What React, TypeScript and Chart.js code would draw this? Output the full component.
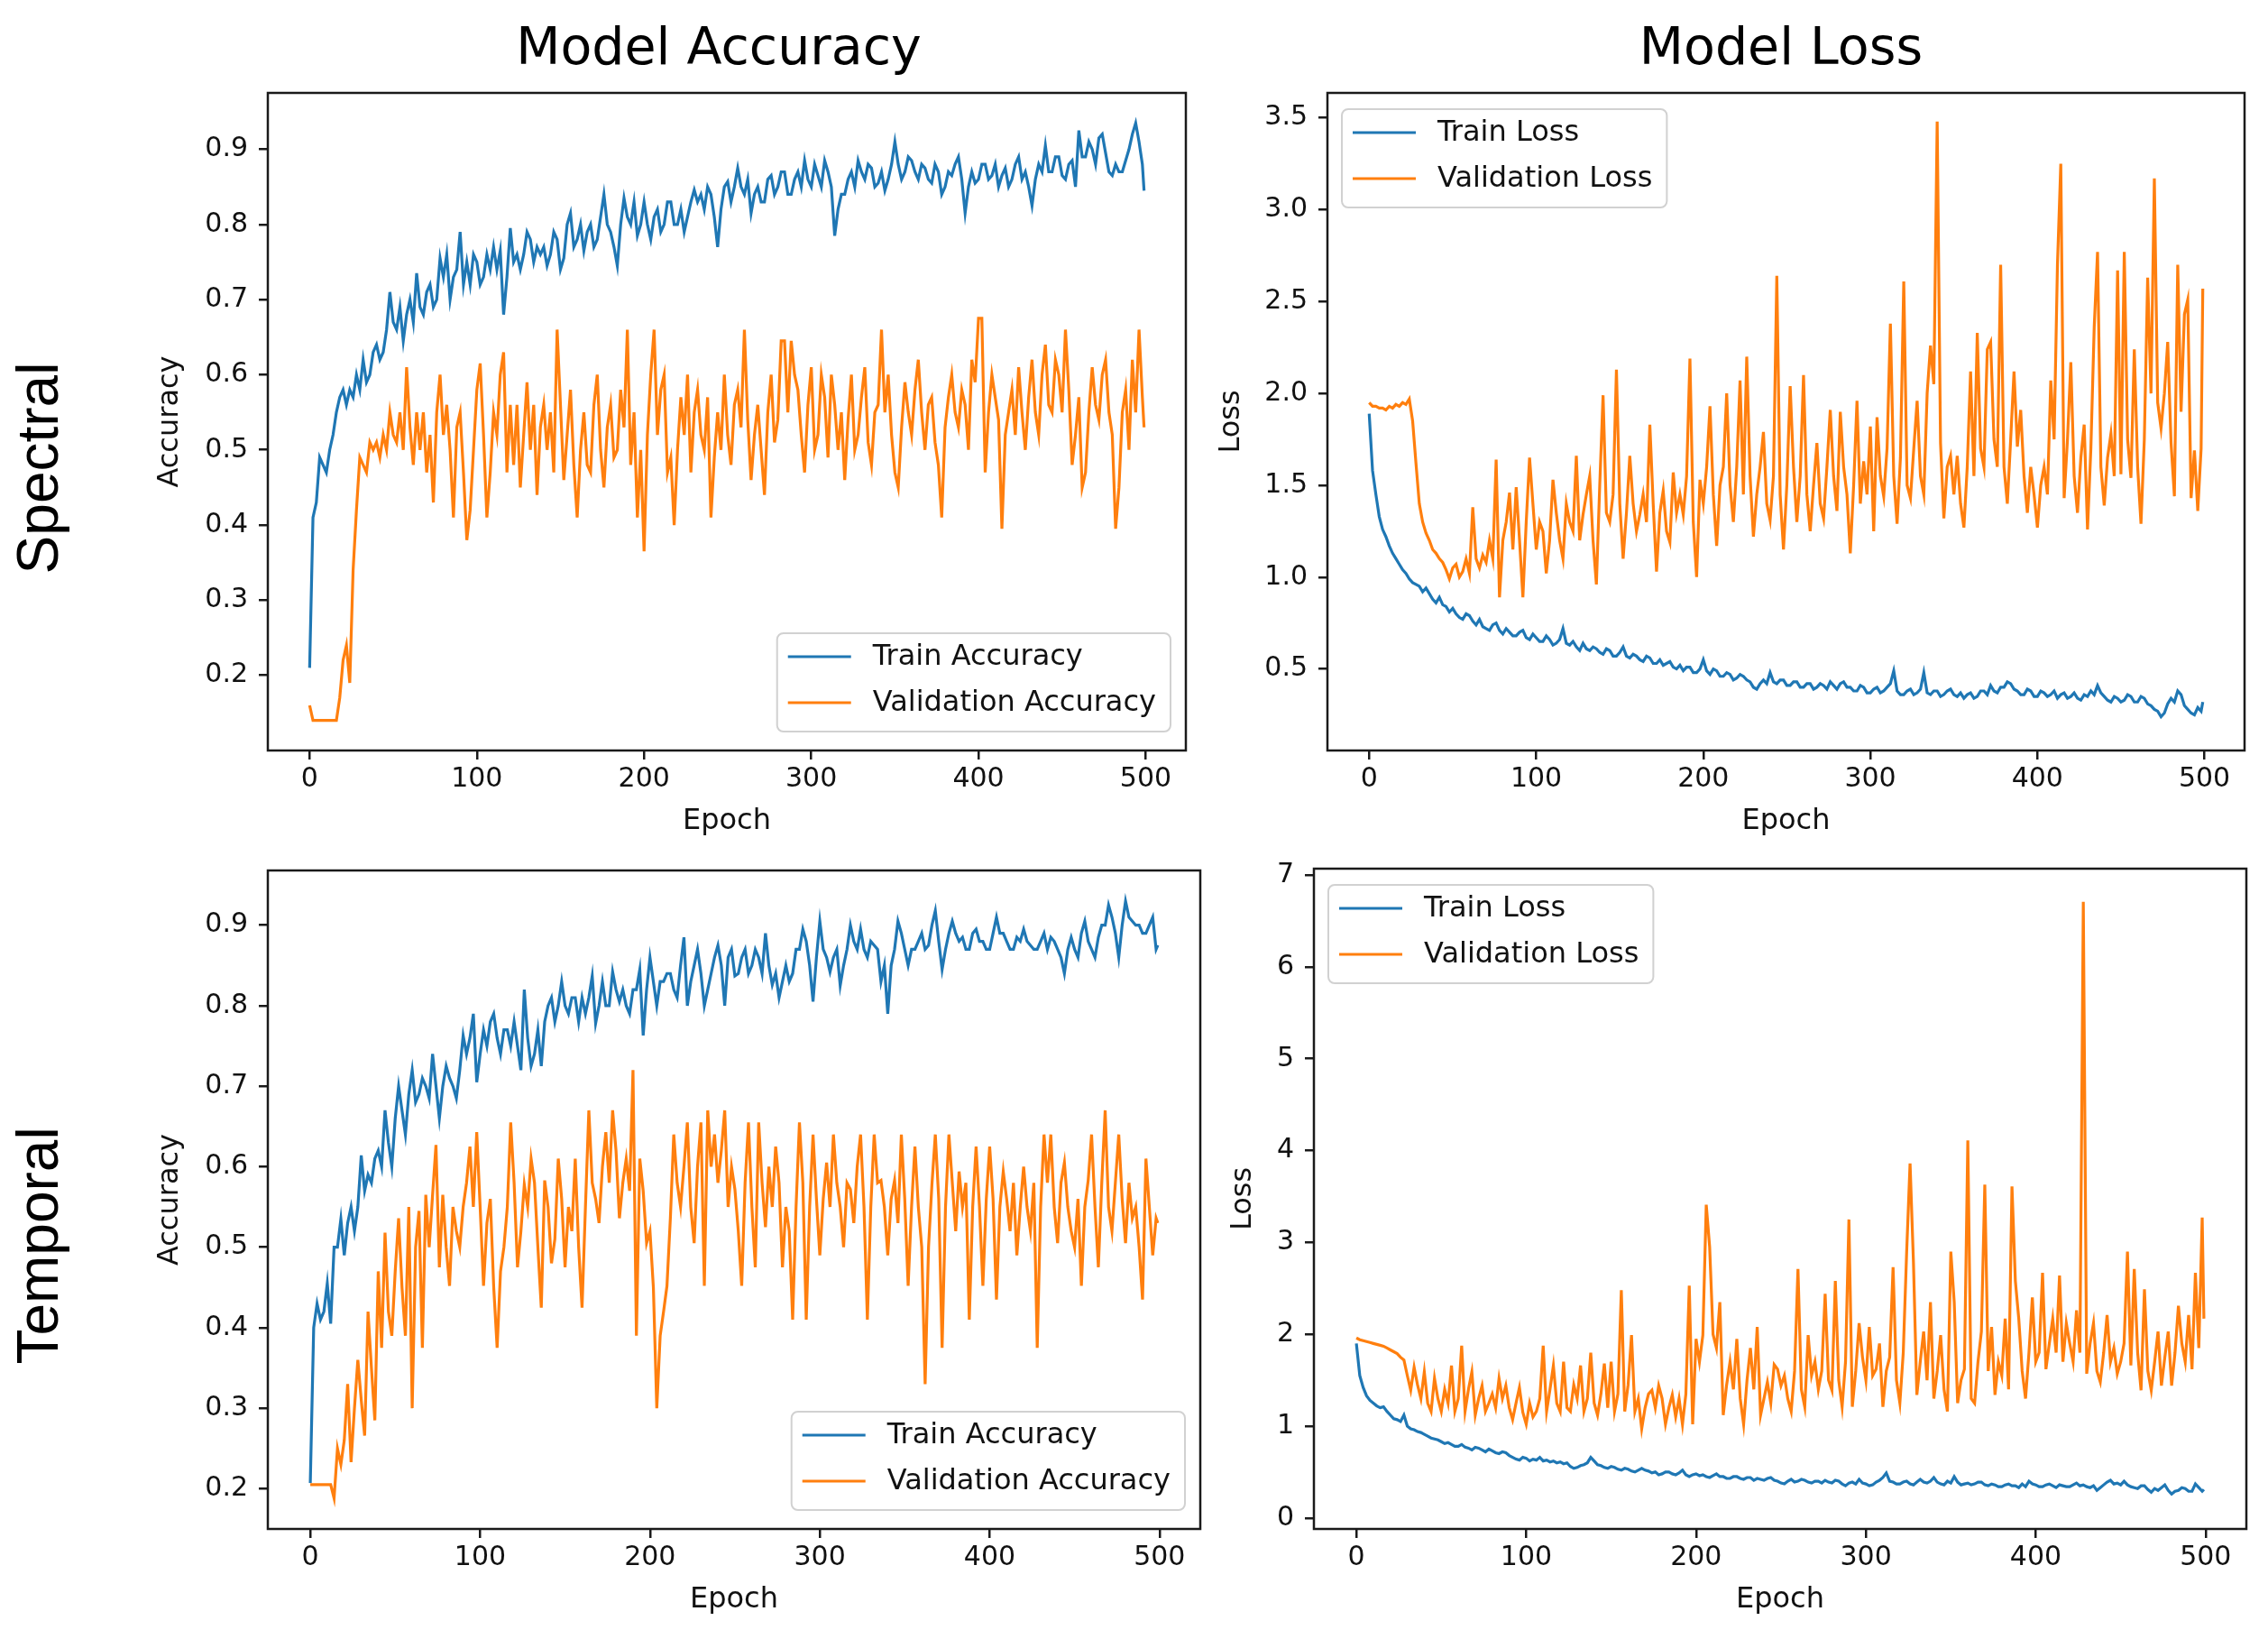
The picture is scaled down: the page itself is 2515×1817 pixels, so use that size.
import React, { useEffect, useRef } from 'react';
import { Chart, registerables } from 'chart.js';

Chart.register(...registerables);

// ---------------- data ----------------
const EPOCHS = [
  0, 2, 4, 6, 8, 10, 12, 14, 16, 18, 20, 22, 24, 26, 28, 30, 32, 34, 36, 38,
  40, 42, 44, 46, 48, 50, 52, 54, 56, 58, 60, 62, 64, 66, 68, 70, 72, 74, 76, 78,
  80, 82, 84, 86, 88, 90, 92, 94, 96, 98, 100, 102, 104, 106, 108, 110, 112, 114, 116, 118,
  120, 122, 124, 126, 128, 130, 132, 134, 136, 138, 140, 142, 144, 146, 148, 150, 152, 154, 156, 158,
  160, 162, 164, 166, 168, 170, 172, 174, 176, 178, 180, 182, 184, 186, 188, 190, 192, 194, 196, 198,
  200, 202, 204, 206, 208, 210, 212, 214, 216, 218, 220, 222, 224, 226, 228, 230, 232, 234, 236, 238,
  240, 242, 244, 246, 248, 250, 252, 254, 256, 258, 260, 262, 264, 266, 268, 270, 272, 274, 276, 278,
  280, 282, 284, 286, 288, 290, 292, 294, 296, 298, 300, 302, 304, 306, 308, 310, 312, 314, 316, 318,
  320, 322, 324, 326, 328, 330, 332, 334, 336, 338, 340, 342, 344, 346, 348, 350, 352, 354, 356, 358,
  360, 362, 364, 366, 368, 370, 372, 374, 376, 378, 380, 382, 384, 386, 388, 390, 392, 394, 396, 398,
  400, 402, 404, 406, 408, 410, 412, 414, 416, 418, 420, 422, 424, 426, 428, 430, 432, 434, 436, 438,
  440, 442, 444, 446, 448, 450, 452, 454, 456, 458, 460, 462, 464, 466, 468, 470, 472, 474, 476, 478,
  480, 482, 484, 486, 488, 490, 492, 494, 496, 498, 499];

const X_TICKS = [0, 100, 200, 300, 400, 500];
const ACC_TICKS = [0.2, 0.3, 0.4, 0.5, 0.6, 0.7, 0.8, 0.9];
const SPEC_LOSS_TICKS = [0.5, 1.0, 1.5, 2.0, 2.5, 3.0, 3.5];
const TEMP_LOSS_TICKS = [0, 1, 2, 3, 4, 5, 6, 7];

const SPECTRAL_TRAIN_ACC = [
  0.21, 0.41, 0.43, 0.49, 0.48, 0.47, 0.50, 0.52, 0.55, 0.57, 0.58, 0.56, 0.58, 0.57, 0.60, 0.58, 0.62, 0.59, 0.60, 0.63,
  0.64, 0.62, 0.63, 0.66, 0.71, 0.67, 0.66, 0.69, 0.645, 0.68, 0.70, 0.67, 0.735, 0.69, 0.68, 0.71, 0.72, 0.69, 0.70, 0.755,
  0.73, 0.76, 0.70, 0.73, 0.74, 0.79, 0.72, 0.75, 0.72, 0.76, 0.75, 0.72, 0.73, 0.76, 0.74, 0.77, 0.74, 0.765, 0.68, 0.73,
  0.795, 0.75, 0.76, 0.74, 0.76, 0.79, 0.78, 0.75, 0.77, 0.76, 0.77, 0.745, 0.76, 0.79, 0.78, 0.74, 0.755, 0.80, 0.815, 0.77,
  0.78, 0.80, 0.765, 0.79, 0.80, 0.77, 0.78, 0.81, 0.84, 0.80, 0.79, 0.77, 0.745, 0.80, 0.835, 0.81, 0.80, 0.83, 0.785, 0.80,
  0.83, 0.80, 0.78, 0.81, 0.82, 0.79, 0.80, 0.83, 0.83, 0.80, 0.80, 0.82, 0.79, 0.81, 0.83, 0.846, 0.83, 0.84, 0.82, 0.85,
  0.84, 0.81, 0.77, 0.82, 0.85, 0.857, 0.83, 0.85, 0.875, 0.85, 0.84, 0.86, 0.815, 0.84, 0.85, 0.83, 0.83, 0.86, 0.865, 0.84,
  0.85, 0.87, 0.87, 0.84, 0.84, 0.86, 0.87, 0.85, 0.885, 0.86, 0.85, 0.88, 0.865, 0.85, 0.885, 0.87, 0.85, 0.785, 0.82, 0.84,
  0.84, 0.86, 0.87, 0.85, 0.885, 0.87, 0.86, 0.88, 0.875, 0.85, 0.855, 0.87, 0.845, 0.86, 0.88, 0.91, 0.88, 0.86, 0.87, 0.89,
  0.885, 0.87, 0.86, 0.88, 0.875, 0.86, 0.855, 0.88, 0.87, 0.84, 0.85, 0.87, 0.865, 0.88, 0.89, 0.86, 0.815, 0.85, 0.87, 0.855,
  0.86, 0.88, 0.88, 0.86, 0.865, 0.88, 0.85, 0.865, 0.875, 0.85, 0.86, 0.88, 0.89, 0.86, 0.87, 0.85, 0.825, 0.86, 0.88, 0.87,
  0.905, 0.87, 0.87, 0.89, 0.89, 0.865, 0.86, 0.88, 0.885, 0.85, 0.925, 0.89, 0.89, 0.91, 0.90, 0.88, 0.915, 0.92, 0.895, 0.87,
  0.865, 0.88, 0.87, 0.87, 0.885, 0.90, 0.92, 0.935, 0.91, 0.88, 0.845];

const SPECTRAL_VAL_ACC = [
  0.16, 0.14, 0.14, 0.14, 0.14, 0.14, 0.14, 0.14, 0.14, 0.17, 0.22, 0.24, 0.19, 0.34, 0.42, 0.49, 0.48, 0.47, 0.51, 0.50,
  0.51, 0.49, 0.52, 0.50, 0.55, 0.52, 0.51, 0.55, 0.50, 0.61, 0.53, 0.48, 0.55, 0.50, 0.55, 0.47, 0.52, 0.43, 0.55, 0.60,
  0.52, 0.56, 0.50, 0.41, 0.53, 0.55, 0.47, 0.38, 0.42, 0.50, 0.58, 0.615, 0.52, 0.41, 0.47, 0.55, 0.52, 0.60, 0.63, 0.47,
  0.56, 0.48, 0.56, 0.45, 0.52, 0.59, 0.50, 0.56, 0.44, 0.53, 0.56, 0.50, 0.55, 0.47, 0.66, 0.56, 0.46, 0.52, 0.58, 0.48,
  0.41, 0.50, 0.55, 0.48, 0.47, 0.56, 0.60, 0.50, 0.45, 0.53, 0.56, 0.49, 0.50, 0.58, 0.53, 0.66, 0.48, 0.55, 0.41, 0.50,
  0.365, 0.52, 0.60, 0.66, 0.52, 0.58, 0.60, 0.47, 0.49, 0.40, 0.50, 0.57, 0.52, 0.60, 0.47, 0.55, 0.58, 0.52, 0.50, 0.57,
  0.41, 0.49, 0.55, 0.50, 0.60, 0.52, 0.48, 0.56, 0.58, 0.53, 0.66, 0.54, 0.46, 0.52, 0.56, 0.50, 0.44, 0.55, 0.60, 0.51,
  0.54, 0.645, 0.645, 0.55, 0.645, 0.60, 0.58, 0.52, 0.47, 0.56, 0.61, 0.50, 0.52, 0.60, 0.57, 0.49, 0.60, 0.56, 0.50, 0.55,
  0.46, 0.54, 0.60, 0.50, 0.52, 0.57, 0.61, 0.51, 0.48, 0.55, 0.56, 0.66, 0.55, 0.60, 0.52, 0.47, 0.45, 0.53, 0.59, 0.55,
  0.52, 0.58, 0.62, 0.55, 0.50, 0.56, 0.57, 0.51, 0.48, 0.41, 0.53, 0.57, 0.60, 0.55, 0.53, 0.58, 0.56, 0.50, 0.62, 0.59,
  0.675, 0.675, 0.47, 0.55, 0.60, 0.57, 0.54, 0.395, 0.52, 0.55, 0.58, 0.52, 0.61, 0.55, 0.50, 0.57, 0.62, 0.55, 0.52, 0.60,
  0.64, 0.56, 0.55, 0.62, 0.60, 0.55, 0.66, 0.58, 0.48, 0.52, 0.57, 0.45, 0.47, 0.55, 0.61, 0.56, 0.54, 0.60, 0.62, 0.55,
  0.52, 0.395, 0.45, 0.55, 0.58, 0.50, 0.62, 0.55, 0.66, 0.57, 0.53];

const SPECTRAL_TRAIN_LOSS = [
  1.89, 1.58, 1.45, 1.33, 1.26, 1.22, 1.17, 1.13, 1.10, 1.07, 1.04, 1.02, 0.99, 0.97, 0.96, 0.95, 0.92, 0.94, 0.91, 0.88,
  0.86, 0.89, 0.85, 0.84, 0.81, 0.83, 0.80, 0.78, 0.77, 0.80, 0.79, 0.76, 0.74, 0.77, 0.73, 0.72, 0.71, 0.74, 0.75, 0.71,
  0.69, 0.72, 0.70, 0.68, 0.68, 0.70, 0.71, 0.67, 0.66, 0.69, 0.67, 0.65, 0.65, 0.68, 0.66, 0.63, 0.64, 0.66, 0.72, 0.64,
  0.63, 0.65, 0.62, 0.60, 0.64, 0.61, 0.60, 0.62, 0.61, 0.59, 0.58, 0.61, 0.60, 0.57, 0.57, 0.59, 0.62, 0.57, 0.56, 0.58,
  0.57, 0.55, 0.54, 0.57, 0.56, 0.53, 0.53, 0.55, 0.52, 0.53, 0.54, 0.51, 0.50, 0.52, 0.49, 0.51, 0.51, 0.48, 0.48, 0.50,
  0.55, 0.49, 0.47, 0.50, 0.49, 0.46, 0.46, 0.48, 0.47, 0.44, 0.45, 0.47, 0.46, 0.44, 0.43, 0.40, 0.39, 0.42, 0.44, 0.42,
  0.48, 0.43, 0.42, 0.44, 0.44, 0.41, 0.41, 0.43, 0.43, 0.40, 0.40, 0.42, 0.42, 0.39, 0.40, 0.42, 0.41, 0.39, 0.43, 0.41,
  0.39, 0.42, 0.43, 0.40, 0.40, 0.38, 0.38, 0.41, 0.40, 0.37, 0.37, 0.39, 0.40, 0.37, 0.38, 0.40, 0.42, 0.49, 0.38, 0.36,
  0.36, 0.38, 0.39, 0.36, 0.37, 0.39, 0.48, 0.37, 0.36, 0.38, 0.38, 0.35, 0.36, 0.38, 0.39, 0.36, 0.35, 0.37, 0.34, 0.36,
  0.37, 0.34, 0.35, 0.38, 0.38, 0.36, 0.41, 0.38, 0.37, 0.40, 0.40, 0.43, 0.42, 0.39, 0.38, 0.36, 0.36, 0.39, 0.38, 0.35,
  0.35, 0.38, 0.37, 0.35, 0.36, 0.38, 0.34, 0.36, 0.37, 0.34, 0.35, 0.37, 0.34, 0.33, 0.36, 0.35, 0.38, 0.36, 0.41, 0.37,
  0.35, 0.33, 0.32, 0.35, 0.34, 0.32, 0.33, 0.36, 0.35, 0.32, 0.32, 0.35, 0.34, 0.31, 0.30, 0.28, 0.27, 0.24, 0.26, 0.31,
  0.34, 0.32, 0.38, 0.36, 0.30, 0.28, 0.26, 0.25, 0.29, 0.27, 0.32];

const SPECTRAL_VAL_LOSS = [
  1.95, 1.93, 1.93, 1.92, 1.92, 1.91, 1.93, 1.92, 1.94, 1.93, 1.95, 1.94, 1.97, 1.85, 1.62, 1.40, 1.30, 1.24, 1.20, 1.15,
  1.13, 1.10, 1.08, 1.04, 0.99, 1.05, 1.07, 1.00, 1.03, 1.10, 1.02, 1.38, 1.10, 1.05, 1.12, 1.08, 1.20, 1.10, 1.64, 0.89,
  1.20, 1.30, 1.46, 1.15, 1.49, 1.20, 0.89, 1.30, 1.65, 1.40, 1.15, 1.30, 1.25, 1.02, 1.20, 1.53, 1.35, 1.20, 1.10, 1.40,
  1.30, 1.25, 1.66, 1.20, 1.34, 1.45, 1.55, 1.20, 0.96, 1.50, 1.99, 1.35, 1.30, 1.45, 2.13, 1.40, 1.10, 1.35, 1.66, 1.40,
  1.25, 1.34, 1.45, 1.30, 1.83, 1.40, 1.03, 1.35, 1.47, 1.25, 1.19, 1.57, 1.35, 1.45, 1.34, 1.55, 2.19, 1.30, 1.00, 1.53,
  1.40, 1.60, 1.93, 1.45, 1.17, 1.50, 1.60, 2.00, 1.50, 1.30, 1.60, 2.07, 1.45, 2.20, 1.55, 1.22, 1.45, 1.60, 1.79, 1.40,
  1.31, 1.55, 2.64, 1.45, 1.15, 1.50, 2.04, 1.60, 1.30, 1.55, 2.10, 1.45, 1.25, 1.50, 1.73, 1.40, 1.32, 1.60, 1.91, 1.55,
  1.36, 1.90, 1.60, 1.45, 1.13, 1.50, 1.96, 1.40, 1.63, 1.45, 1.82, 1.25, 1.87, 1.55, 1.44, 1.70, 2.38, 1.55, 1.29, 1.65,
  2.61, 1.50, 1.43, 1.70, 1.96, 1.55, 1.45, 2.00, 2.26, 2.05, 3.48, 1.73, 1.32, 1.60, 1.66, 1.45, 1.66, 1.40, 1.27, 1.60,
  2.12, 1.55, 2.33, 1.70, 1.60, 2.24, 2.28, 1.75, 1.60, 2.70, 1.60, 1.40, 1.75, 2.12, 1.71, 1.91, 1.55, 1.35, 1.60, 1.45,
  1.27, 1.50, 1.60, 1.45, 2.07, 1.75, 2.70, 3.25, 1.43, 1.75, 2.17, 1.55, 1.35, 1.65, 1.83, 1.26, 1.70, 2.36, 2.77, 1.60,
  1.39, 1.65, 1.78, 1.55, 2.67, 1.56, 2.77, 1.75, 1.54, 2.24, 1.60, 1.29, 1.75, 2.63, 2.00, 3.17, 1.95, 1.81, 2.00, 2.28,
  1.73, 1.44, 2.70, 1.90, 2.43, 2.51, 1.43, 1.69, 1.36, 1.70, 2.57];

const TEMPORAL_TRAIN_ACC = [
  0.207, 0.40, 0.43, 0.41, 0.42, 0.455, 0.405, 0.50, 0.50, 0.535, 0.49, 0.53, 0.55, 0.52, 0.55, 0.614, 0.57, 0.59, 0.58, 0.61,
  0.62, 0.60, 0.67, 0.63, 0.60, 0.66, 0.70, 0.67, 0.64, 0.69, 0.72, 0.68, 0.69, 0.71, 0.70, 0.685, 0.74, 0.70, 0.66, 0.70,
  0.725, 0.71, 0.70, 0.685, 0.72, 0.763, 0.74, 0.76, 0.79, 0.705, 0.74, 0.77, 0.75, 0.78, 0.79, 0.76, 0.74, 0.77, 0.77, 0.75,
  0.78, 0.75, 0.72, 0.82, 0.76, 0.725, 0.74, 0.77, 0.725, 0.78, 0.80, 0.81, 0.78, 0.80, 0.83, 0.80, 0.79, 0.81, 0.81, 0.78,
  0.81, 0.79, 0.81, 0.837, 0.778, 0.80, 0.83, 0.80, 0.80, 0.842, 0.82, 0.805, 0.82, 0.80, 0.79, 0.82, 0.82, 0.845, 0.763, 0.82,
  0.86, 0.83, 0.80, 0.83, 0.83, 0.84, 0.84, 0.82, 0.81, 0.85, 0.885, 0.80, 0.83, 0.85, 0.87, 0.84, 0.80, 0.82, 0.84, 0.86,
  0.875, 0.85, 0.80, 0.86, 0.87, 0.837, 0.84, 0.86, 0.87, 0.84, 0.85, 0.87, 0.86, 0.84, 0.89, 0.85, 0.826, 0.84, 0.81, 0.83,
  0.85, 0.83, 0.84, 0.87, 0.87, 0.895, 0.88, 0.85, 0.805, 0.86, 0.905, 0.87, 0.86, 0.842, 0.86, 0.87, 0.825, 0.85, 0.87, 0.90,
  0.88, 0.87, 0.895, 0.87, 0.86, 0.88, 0.875, 0.87, 0.83, 0.85, 0.79, 0.85, 0.87, 0.905, 0.89, 0.87, 0.85, 0.87, 0.87, 0.88,
  0.89, 0.87, 0.875, 0.90, 0.918, 0.88, 0.845, 0.87, 0.89, 0.905, 0.89, 0.88, 0.885, 0.87, 0.87, 0.89, 0.895, 0.88, 0.88, 0.87,
  0.87, 0.89, 0.91, 0.89, 0.89, 0.88, 0.87, 0.87, 0.885, 0.88, 0.895, 0.88, 0.875, 0.87, 0.87, 0.88, 0.89, 0.87, 0.885, 0.88,
  0.87, 0.86, 0.84, 0.87, 0.885, 0.87, 0.86, 0.89, 0.905, 0.88, 0.87, 0.86, 0.885, 0.90, 0.90, 0.925, 0.91, 0.89, 0.86, 0.90,
  0.93, 0.91, 0.905, 0.90, 0.90, 0.89, 0.89, 0.90, 0.91, 0.87, 0.875];

const TEMPORAL_VAL_ACC = [
  0.205, 0.205, 0.205, 0.205, 0.205, 0.205, 0.205, 0.188, 0.25, 0.23, 0.26, 0.33, 0.233, 0.30, 0.36, 0.31, 0.266, 0.42, 0.35, 0.285,
  0.47, 0.375, 0.518, 0.42, 0.39, 0.47, 0.536, 0.45, 0.39, 0.55, 0.30, 0.50, 0.545, 0.375, 0.565, 0.50, 0.565, 0.627, 0.475, 0.565,
  0.50, 0.452, 0.55, 0.52, 0.50, 0.55, 0.58, 0.625, 0.55, 0.643, 0.55, 0.452, 0.53, 0.56, 0.45, 0.375, 0.47, 0.50, 0.55, 0.655,
  0.58, 0.475, 0.52, 0.578, 0.55, 0.61, 0.58, 0.50, 0.425, 0.583, 0.55, 0.48, 0.51, 0.61, 0.56, 0.475, 0.55, 0.52, 0.61, 0.50,
  0.425, 0.55, 0.67, 0.58, 0.56, 0.53, 0.60, 0.643, 0.58, 0.67, 0.62, 0.536, 0.58, 0.61, 0.57, 0.72, 0.39, 0.61, 0.57, 0.505,
  0.52, 0.45, 0.30, 0.39, 0.42, 0.452, 0.536, 0.64, 0.58, 0.55, 0.60, 0.655, 0.55, 0.505, 0.60, 0.655, 0.452, 0.67, 0.60, 0.64,
  0.58, 0.62, 0.67, 0.55, 0.60, 0.572, 0.52, 0.452, 0.58, 0.655, 0.55, 0.475, 0.655, 0.58, 0.525, 0.60, 0.55, 0.625, 0.58, 0.475,
  0.55, 0.52, 0.41, 0.55, 0.655, 0.58, 0.41, 0.55, 0.64, 0.56, 0.49, 0.56, 0.605, 0.55, 0.64, 0.58, 0.55, 0.50, 0.58, 0.572,
  0.53, 0.60, 0.64, 0.55, 0.41, 0.55, 0.64, 0.58, 0.583, 0.55, 0.49, 0.56, 0.583, 0.53, 0.64, 0.56, 0.452, 0.55, 0.625, 0.55,
  0.50, 0.33, 0.50, 0.578, 0.64, 0.56, 0.375, 0.55, 0.64, 0.58, 0.52, 0.594, 0.55, 0.58, 0.41, 0.55, 0.625, 0.55, 0.452, 0.56,
  0.625, 0.56, 0.435, 0.55, 0.594, 0.56, 0.52, 0.58, 0.49, 0.55, 0.60, 0.55, 0.52, 0.58, 0.375, 0.55, 0.64, 0.58, 0.64, 0.55,
  0.505, 0.58, 0.605, 0.55, 0.52, 0.50, 0.56, 0.452, 0.55, 0.583, 0.64, 0.55, 0.475, 0.58, 0.67, 0.55, 0.52, 0.58, 0.64, 0.56,
  0.505, 0.58, 0.536, 0.55, 0.50, 0.435, 0.61, 0.55, 0.49, 0.536, 0.53];

const TEMPORAL_TRAIN_LOSS = [
  1.90, 1.55, 1.42, 1.33, 1.28, 1.25, 1.22, 1.20, 1.21, 1.16, 1.12, 1.08, 1.07, 1.05, 1.12, 1.00, 0.97, 0.96, 0.94, 0.93,
  0.91, 0.89, 0.87, 0.86, 0.85, 0.83, 0.81, 0.82, 0.80, 0.78, 0.78, 0.80, 0.77, 0.76, 0.74, 0.77, 0.76, 0.74, 0.72, 0.75,
  0.73, 0.71, 0.70, 0.72, 0.71, 0.68, 0.66, 0.64, 0.63, 0.66, 0.65, 0.62, 0.64, 0.63, 0.66, 0.62, 0.63, 0.61, 0.62, 0.60,
  0.61, 0.59, 0.60, 0.56, 0.54, 0.55, 0.57, 0.58, 0.60, 0.66, 0.62, 0.58, 0.57, 0.55, 0.54, 0.56, 0.55, 0.53, 0.52, 0.54,
  0.53, 0.51, 0.50, 0.52, 0.54, 0.52, 0.51, 0.49, 0.50, 0.47, 0.48, 0.50, 0.50, 0.48, 0.47, 0.49, 0.52, 0.47, 0.45, 0.47,
  0.48, 0.46, 0.47, 0.45, 0.44, 0.46, 0.48, 0.45, 0.45, 0.43, 0.43, 0.45, 0.45, 0.43, 0.42, 0.44, 0.44, 0.41, 0.43, 0.42,
  0.41, 0.43, 0.44, 0.41, 0.40, 0.38, 0.37, 0.40, 0.42, 0.39, 0.40, 0.42, 0.41, 0.39, 0.38, 0.40, 0.40, 0.38, 0.41, 0.39,
  0.38, 0.41, 0.40, 0.37, 0.35, 0.38, 0.39, 0.37, 0.42, 0.38, 0.37, 0.35, 0.36, 0.39, 0.41, 0.44, 0.49, 0.40, 0.39, 0.37,
  0.37, 0.39, 0.40, 0.37, 0.36, 0.39, 0.42, 0.39, 0.38, 0.40, 0.44, 0.39, 0.37, 0.36, 0.40, 0.38, 0.45, 0.39, 0.36, 0.37,
  0.38, 0.36, 0.37, 0.39, 0.39, 0.36, 0.35, 0.37, 0.36, 0.34, 0.34, 0.36, 0.37, 0.35, 0.35, 0.33, 0.37, 0.34, 0.40, 0.37,
  0.36, 0.34, 0.34, 0.36, 0.37, 0.35, 0.33, 0.36, 0.35, 0.34, 0.34, 0.36, 0.38, 0.35, 0.36, 0.34, 0.33, 0.35, 0.30, 0.33,
  0.36, 0.39, 0.41, 0.37, 0.38, 0.36, 0.40, 0.36, 0.34, 0.33, 0.32, 0.35, 0.35, 0.31, 0.28, 0.32, 0.30, 0.33, 0.36, 0.30,
  0.26, 0.29, 0.30, 0.33, 0.32, 0.29, 0.29, 0.37, 0.33, 0.29, 0.31];

const TEMPORAL_VAL_LOSS = [
  1.96, 1.94, 1.93, 1.92, 1.91, 1.90, 1.89, 1.88, 1.87, 1.85, 1.83, 1.81, 1.79, 1.75, 1.72, 1.55, 1.39, 1.64, 1.45, 1.30,
  1.59, 1.25, 1.16, 1.52, 1.30, 1.16, 1.40, 1.25, 1.66, 1.16, 1.30, 1.875, 1.16, 1.40, 1.59, 1.12, 1.30, 1.44, 1.16, 1.25,
  1.35, 1.20, 1.52, 1.30, 1.44, 1.20, 1.07, 1.25, 1.42, 1.15, 1.02, 1.25, 1.10, 1.16, 1.30, 1.875, 1.16, 1.40, 1.66, 1.25,
  1.16, 1.70, 1.20, 1.16, 1.45, 1.30, 1.66, 1.16, 1.30, 1.80, 1.25, 1.12, 1.35, 1.68, 1.20, 1.70, 1.16, 1.35, 2.48, 1.16,
  1.45, 1.99, 1.16, 1.30, 0.97, 1.20, 1.35, 1.39, 1.20, 1.44, 1.30, 1.02, 1.20, 1.34, 1.10, 1.30, 1.02, 1.35, 2.53, 1.02,
  1.95, 1.70, 1.99, 3.41, 2.95, 2.00, 1.85, 2.35, 1.12, 1.45, 1.70, 1.40, 1.95, 1.30, 1.02, 1.50, 1.85, 1.40, 2.08, 1.12,
  1.30, 1.48, 1.25, 1.67, 1.62, 1.44, 1.55, 1.30, 1.16, 1.60, 2.71, 1.40, 1.21, 1.99, 1.55, 1.70, 1.40, 1.60, 2.44, 1.50,
  1.39, 2.58, 1.50, 1.21, 1.70, 3.25, 1.21, 1.60, 2.12, 1.75, 1.50, 2.08, 1.55, 1.62, 1.90, 1.21, 1.60, 1.75, 2.73, 1.50,
  1.25, 1.80, 2.90, 3.86, 2.78, 1.34, 1.70, 2.03, 1.50, 2.35, 1.30, 1.60, 1.99, 1.40, 1.16, 2.90, 2.35, 1.25, 1.50, 1.62,
  4.11, 1.30, 1.25, 1.70, 2.03, 3.63, 1.60, 2.08, 1.34, 1.70, 1.55, 2.17, 1.40, 3.61, 2.58, 2.17, 1.60, 1.30, 1.80, 2.40,
  1.70, 1.80, 2.67, 1.62, 1.90, 2.17, 1.80, 2.64, 1.70, 2.12, 1.90, 1.70, 2.26, 1.80, 6.71, 1.57, 1.90, 2.12, 1.60, 1.48,
  1.80, 2.21, 1.70, 1.85, 1.57, 1.70, 1.90, 2.90, 1.66, 2.71, 1.80, 1.39, 2.49, 1.60, 1.39, 1.70, 2.03, 1.44, 1.75, 2.03,
  1.44, 1.80, 2.31, 1.90, 1.70, 2.21, 1.62, 2.67, 1.85, 3.27, 2.17];

// ---------------- styling ----------------
const BLUE = '#1f77b4';
const ORANGE = '#ff7f0e';
const FONT = '"DejaVu Sans", "Noto Sans", sans-serif';
const INK = '#111111';
const LINE_W = 3.2;
const YW = 150; // y-axis block width
const XH = 110; // x-axis block height
const PT = 40;
const PR = 20;

type PanelCfg = {
  left: number; top: number; right: number; bottom: number;
  yMin: number; yMax: number; yTicks: number[]; yDec: number;
  yTitle: string; yTitlePad: number;
  train: number[]; val: number[];
  trainLabel: string; valLabel: string;
  corner: 'lower right' | 'upper left';
};

const framePlugin = {
  id: 'frameAndLegend',
  afterDatasetsDraw(chart: any, _args: any, opts: any) {
    const { ctx, chartArea: ca } = chart;
    ctx.save();
    ctx.strokeStyle = '#1a1a1a';
    ctx.lineWidth = 2.5;
    ctx.strokeRect(ca.left, ca.top, ca.right - ca.left, ca.bottom - ca.top);
    const items = opts.items as { label: string; color: string }[];
    ctx.font = `32px ${FONT}`;
    const textW = Math.max(...items.map((it) => ctx.measureText(it.label).width));
    const padL = 12, handle = 70, gap = 24, padR = 16, rowH = 51, padT = 26, h = 109;
    const w = padL + handle + gap + textW + padR;
    let x0: number, y0: number;
    if (opts.corner === 'lower right') {
      x0 = ca.right - 17 - w;
      y0 = ca.bottom - 21 - h;
    } else {
      x0 = ca.left + 16;
      y0 = ca.top + 18;
    }
    const r = 7;
    ctx.beginPath();
    ctx.moveTo(x0 + r, y0);
    ctx.lineTo(x0 + w - r, y0);
    ctx.arcTo(x0 + w, y0, x0 + w, y0 + r, r);
    ctx.lineTo(x0 + w, y0 + h - r);
    ctx.arcTo(x0 + w, y0 + h, x0 + w - r, y0 + h, r);
    ctx.lineTo(x0 + r, y0 + h);
    ctx.arcTo(x0, y0 + h, x0, y0 + h - r, r);
    ctx.lineTo(x0, y0 + r);
    ctx.arcTo(x0, y0, x0 + r, y0, r);
    ctx.closePath();
    ctx.fillStyle = 'rgba(255,255,255,0.8)';
    ctx.fill();
    ctx.strokeStyle = 'rgba(204,204,204,0.9)';
    ctx.lineWidth = 2;
    ctx.stroke();
    items.forEach((it, i) => {
      const cy = y0 + padT + i * rowH;
      ctx.beginPath();
      ctx.moveTo(x0 + padL, cy);
      ctx.lineTo(x0 + padL + handle, cy);
      ctx.strokeStyle = it.color;
      ctx.lineWidth = LINE_W;
      ctx.stroke();
      ctx.fillStyle = INK;
      ctx.textBaseline = 'middle';
      ctx.textAlign = 'left';
      ctx.fillText(it.label, x0 + padL + handle + gap, cy + 1);
    });
    ctx.restore();
  },
};

function Panel({ cfg }: { cfg: PanelCfg }) {
  const ref = useRef<HTMLCanvasElement>(null);
  const w = YW + (cfg.right - cfg.left) + PR;
  const h = PT + (cfg.bottom - cfg.top) + XH;

  useEffect(() => {
    const canvas = ref.current;
    if (!canvas) return;
    const toPts = (ys: number[]) => EPOCHS.map((e, i) => ({ x: e, y: ys[i] }));
    const axisGrid = {
      display: true,
      drawOnChartArea: false,
      drawTicks: true,
      tickLength: 10,
      color: '#1a1a1a',
      lineWidth: 2.5,
    };
    const chart = new Chart(canvas, {
      type: 'line',
      data: {
        datasets: [
          {
            label: cfg.trainLabel,
            data: toPts(cfg.train),
            borderColor: BLUE,
            borderWidth: LINE_W,
            pointRadius: 0,
            tension: 0,
            fill: false,
            order: 2,
          },
          {
            label: cfg.valLabel,
            data: toPts(cfg.val),
            borderColor: ORANGE,
            borderWidth: LINE_W,
            pointRadius: 0,
            tension: 0,
            fill: false,
            order: 1,
          },
        ],
      },
      options: {
        animation: false,
        responsive: false,
        maintainAspectRatio: false,
        events: [],
        parsing: false as any,
        layout: { padding: { top: PT, right: PR, left: 0, bottom: 0 } },
        plugins: {
          legend: { display: false },
          tooltip: { enabled: false },
          frameAndLegend: {
            corner: cfg.corner,
            items: [
              { label: cfg.trainLabel, color: BLUE },
              { label: cfg.valLabel, color: ORANGE },
            ],
          },
        } as any,
        scales: {
          x: {
            type: 'linear',
            min: -25,
            max: 524,
            afterBuildTicks: (s: any) => {
              s.ticks = X_TICKS.map((v) => ({ value: v }));
            },
            afterFit: (s: any) => {
              s.height = XH;
            },
            ticks: {
              autoSkip: false,
              maxRotation: 0,
              minRotation: 0,
              padding: 4,
              color: INK,
              font: { family: FONT, size: 30 },
              callback: (v: any) => String(v),
            },
            grid: axisGrid,
            border: { display: false },
            title: {
              display: true,
              text: 'Epoch',
              color: INK,
              font: { family: FONT, size: 32 },
              padding: { top: 0, bottom: 12 },
            },
          },
          y: {
            type: 'linear',
            min: cfg.yMin,
            max: cfg.yMax,
            afterBuildTicks: (s: any) => {
              s.ticks = cfg.yTicks.map((v) => ({ value: v }));
            },
            afterFit: (s: any) => {
              s.width = YW;
            },
            ticks: {
              autoSkip: false,
              padding: 12,
              color: INK,
              font: { family: FONT, size: 30 },
              callback: (v: any) => Number(v).toFixed(cfg.yDec),
            },
            grid: axisGrid,
            border: { display: false },
            title: {
              display: true,
              text: cfg.yTitle,
              color: INK,
              font: { family: FONT, size: 32 },
              padding: { top: cfg.yTitlePad, bottom: 0 },
            },
          },
        },
      } as any,
      plugins: [framePlugin],
    });
    return () => chart.destroy();
  }, []);

  return (
    <canvas
      ref={ref}
      width={w}
      height={h}
      style={{ position: 'absolute', left: cfg.left - YW, top: cfg.top - PT, width: w, height: h }}
    />
  );
}

const PANELS: PanelCfg[] = [
  {
    left: 297, top: 103, right: 1315, bottom: 832,
    yMin: 0.1, yMax: 0.975, yTicks: ACC_TICKS, yDec: 1,
    yTitle: 'Accuracy', yTitlePad: 22,
    train: SPECTRAL_TRAIN_ACC, val: SPECTRAL_VAL_ACC,
    trainLabel: 'Train Accuracy', valLabel: 'Validation Accuracy', corner: 'lower right',
  },
  {
    left: 1472, top: 103, right: 2489, bottom: 832,
    yMin: 0.056, yMax: 3.636, yTicks: SPEC_LOSS_TICKS, yDec: 1,
    yTitle: 'Loss', yTitlePad: 24,
    train: SPECTRAL_TRAIN_LOSS, val: SPECTRAL_VAL_LOSS,
    trainLabel: 'Train Loss', valLabel: 'Validation Loss', corner: 'upper left',
  },
  {
    left: 297, top: 965, right: 1331, bottom: 1695,
    yMin: 0.15, yMax: 0.968, yTicks: ACC_TICKS, yDec: 1,
    yTitle: 'Accuracy', yTitlePad: 22,
    train: TEMPORAL_TRAIN_ACC, val: TEMPORAL_VAL_ACC,
    trainLabel: 'Train Accuracy', valLabel: 'Validation Accuracy', corner: 'lower right',
  },
  {
    left: 1457, top: 963, right: 2491, bottom: 1695,
    yMin: -0.12, yMax: 7.07, yTicks: TEMP_LOSS_TICKS, yDec: 0,
    yTitle: 'Loss', yTitlePad: 52,
    train: TEMPORAL_TRAIN_LOSS, val: TEMPORAL_VAL_LOSS,
    trainLabel: 'Train Loss', valLabel: 'Validation Loss', corner: 'upper left',
  },
];

const titleStyle = (cx: number): React.CSSProperties => ({
  position: 'absolute',
  left: cx,
  top: 23,
  transform: 'translateX(-50%)',
  fontFamily: FONT,
  fontSize: 57,
  lineHeight: '57px',
  whiteSpace: 'nowrap',
  color: '#000',
});

const rowStyle = (cy: number): React.CSSProperties => ({
  position: 'absolute',
  left: 42,
  top: cy,
  transform: 'translate(-50%, -50%) rotate(-90deg)',
  fontFamily: '"Liberation Sans", Arial, sans-serif',
  fontSize: 64,
  lineHeight: '64px',
  whiteSpace: 'nowrap',
  color: '#000',
});

export default function App() {
  return (
    <div
      style={{
        position: 'absolute',
        left: 0,
        top: 0,
        width: 2515,
        height: 1817,
        background: '#ffffff',
        overflow: 'hidden',
      }}
    >
      <div style={titleStyle(797)}>Model Accuracy</div>
      <div style={titleStyle(1975)}>Model Loss</div>
      <div style={rowStyle(519)}>Spectral</div>
      <div style={rowStyle(1381)}>Temporal</div>
      {PANELS.map((p, i) => (
        <Panel key={i} cfg={p} />
      ))}
    </div>
  );
}
